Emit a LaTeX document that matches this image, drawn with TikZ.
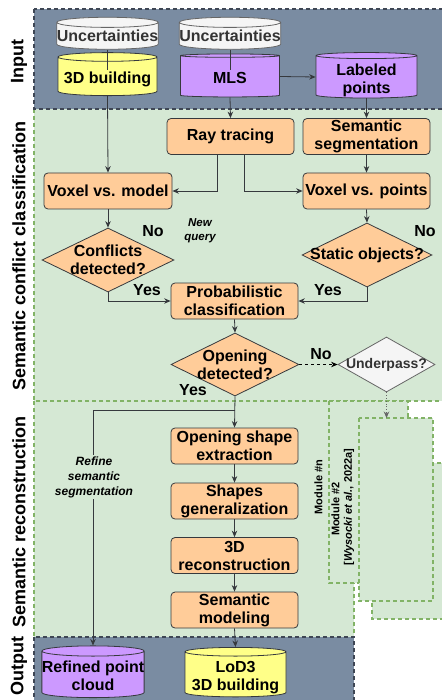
\documentclass[tikz,border=0pt]{standalone}
\usepackage{fontspec}
\setmainfont{Liberation Sans}
\usetikzlibrary{shapes.geometric, calc, arrows.meta}

\definecolor{slatef}{HTML}{7A8CA2}
\definecolor{slateb}{HTML}{3E4654}
\definecolor{greenf}{HTML}{D5E8D4}
\definecolor{greenb}{HTML}{82B366}
\definecolor{orangef}{HTML}{FFCC99}
\definecolor{linec}{HTML}{36393D}
\definecolor{purplef}{HTML}{CC99FF}
\definecolor{yellowf}{HTML}{FFFF88}
\definecolor{grayf}{HTML}{F5F5F5}
\definecolor{grayb}{HTML}{666666}
\definecolor{grayt}{HTML}{333333}

% text of a cylinder, set a little below its centre
\newcommand{\cyltext}[1]{\raisebox{-3.5pt}[\height][\depth]{\begin{tabular}{@{}c@{}}#1\end{tabular}}}

\begin{document}
\begin{tikzpicture}[x=1pt, y=-1pt, >={Stealth[length=6.5pt, width=5.5pt]}, line width=0.8pt,
  proc/.style={draw=linec, fill=orangef, rounded corners=4pt, minimum width=127pt, minimum height=36pt, align=center, inner sep=0pt, font=\fontsize{16}{18}\selectfont\bfseries},
  dec/.style={diamond, draw=linec, fill=orangef, inner sep=0pt, minimum width=130pt, minimum height=63pt},
  dtxt/.style={align=center, font=\fontsize{16}{18}\selectfont\bfseries},
  db/.style={cylinder, shape border rotate=90, aspect=0.1, draw=linec, minimum width=99pt, minimum height=43pt, align=center, inner sep=0pt, font=\fontsize{16}{18}\selectfont\bfseries},
  unc/.style={db, fill=grayf, draw=grayb, text=grayt, minimum height=32pt},
  lbl/.style={font=\fontsize{16}{18}\selectfont\bfseries},
  note/.style={align=center, font=\fontsize{12}{15}\selectfont\bfseries\itshape},
  panelg/.style={fill=greenf, draw=greenb, dash pattern=on 4pt off 3pt, line width=1.1pt},
  panels/.style={fill=slatef, draw=slateb, dash pattern=on 4pt off 3pt, line width=1.1pt},
  side/.style={rotate=90, font=\fontsize{18}{20}\selectfont\bfseries},
  modl/.style={rotate=90, font=\fontsize{11}{13}\selectfont\bfseries}
]
\useasboundingbox (0,0) rectangle (441,700);

% panels
\draw[panelg] (34,109) rectangle (450,401);
\draw[panelg] (34,401) rectangle (354,637);
\draw[panelg] (329,401) rectangle (408,583);
\draw[panelg] (372,463) rectangle (450,619);
\draw[panelg] (359,418) rectangle (433,601);
\draw[panels] (34,9) rectangle (450,109);
\draw[panels] (34,637) rectangle (354,705);

\node[side] (lin) at (19,62) {Input};
\node[side] (lcls) at (19,256) {Semantic conflict classification};
\node[side] (lrec) at (19,522) {Semantic reconstruction};
\node[side] (lout) at (19,666) {Output};

% input
\node[unc] (unca) at (107.5,36) {Uncertainties};
\node[db, fill=yellowf] (bld) at (107.5,76.5) {\cyltext{3D building}};
\node[unc] (uncb) at (230,36) {Uncertainties};
\node[db, fill=purplef] (mls) at (230,76.5) {\cyltext{MLS}};
\node[db, fill=purplef, minimum width=101pt, minimum height=44pt] (lab) at (366.5,77) {\cyltext{Labeled\\points}};
\draw[linec] (unca.south) -- ++(0,20);
\draw[linec] (uncb.south) -- ++(0,20);

% classification
\node[proc] (ray) at (230.5,136.5) {Ray tracing};
\node[proc] (seg) at (366.5,136.5) {Semantic\\segmentation};
\node[proc, minimum width=128pt] (vm) at (108,191) {Voxel vs. model};
\node[proc] (vp) at (366.5,191) {Voxel vs. points};
\node[dec, minimum width=132pt, minimum height=64pt, label={[dtxt]center:{Conflicts\\detected?}}] (conf) at (108,260) {};
\node[dec, minimum height=64pt, label={[dtxt]center:{Static objects?}}] (stat) at (367,255) {};
\node[proc] (prob) at (234.5,301) {Probabilistic\\classification};
\node[dec, minimum width=128pt, label={[dtxt]center:{Opening\\detected?}}] (open) at (235,364.5) {};
\node[diamond, draw=grayb, fill=grayf, inner sep=0pt, minimum width=97pt, minimum height=55pt, label={[text=grayt, font=\fontsize{14}{15}\selectfont\bfseries]center:Underpass?}] (under) at (386.5,364.5) {};

\draw[->, linec] (mls.east) -- (lab.west);
\draw[->, linec] (bld.south) -- (vm.north);
\draw[->, linec] (mls.south) -- (ray.north);
\draw[->, linec] (lab.south) -- (seg.north);
\draw[->, linec] ([xshift=-13pt]ray.south) |- (vm.east);
\draw[->, linec] ([xshift=14pt]ray.south) |- (vp.west);
\draw[->, linec] (seg.south) -- (vp.north);
\draw[->, linec] (vm.south) -- (conf.north);
\draw[->, linec] (vp.south) -- (stat.north);
\draw[->, linec] (conf.south) |- (prob.west);
\draw[->, linec] (stat.south) |- (prob.east);
\draw[->, linec] (prob.south) -- (open.north);
\draw[->, dashed, black] (open.east) -- (under.west);
\coordinate (modtop) at (386.5,418);
\draw[->, dotted, grayb] (under.south) -- (modtop);

\node[lbl] (noa) at (153,231) {No};
\node[lbl] (nob) at (425,231) {No};
\node[lbl] (yesa) at (147,290) {Yes};
\node[lbl] (yesb) at (328,290) {Yes};
\node[lbl] (noc) at (321,354) {No};
\node[lbl] (yesc) at (193,390) {Yes};
\node[note, font=\fontsize{11.5}{14}\selectfont\bfseries\itshape] (query) at (200,231) {New\\query};

% reconstruction
\node[proc] (ose) at (234.5,446) {Opening shape\\extraction};
\node[proc] (sg) at (234.5,501) {Shapes\\generalization};
\node[proc] (rec) at (234.5,555.5) {3D\\reconstruction};
\node[proc] (sm) at (234.5,610) {Semantic\\modeling};
\node[db, fill=purplef, minimum width=100pt, minimum height=45pt] (rpc) at (93,674.5) {\cyltext{Refined point\\cloud}};
\node[db, fill=yellowf, minimum width=101pt, minimum height=45pt] (lod) at (235.5,674.5) {\cyltext{LoD3\\3D building}};

\coordinate (split) at (235,410);
\draw[->, linec] (open.south) -- (ose.north);
\draw[->, linec] (split) -| (rpc.north);
\draw[->, linec] (ose.south) -- (sg.north);
\draw[->, linec] (sg.south) -- (rec.north);
\draw[->, linec] (rec.south) -- (sm.north);
\draw[->, linec] (sm.south) -- (lod.north);
\node[note, fill=greenf, inner sep=1pt] (refine) at (94,477) {Refine\\semantic\\segmentation};

\node[modl] (modn) at (318.5,487) {Module \#n};
\node[modl] (modb) at (335.5,509) {Module \#2};
\node[modl] (wys) at (349,507) {[\textit{Wysocki et al.}, 2022a]};
\end{tikzpicture}
\end{document}
